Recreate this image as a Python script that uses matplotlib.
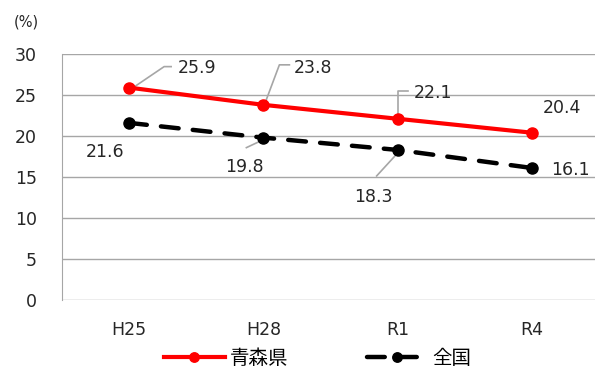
import matplotlib
matplotlib.use('Agg')
import matplotlib.pyplot as plt
import matplotlib.transforms as mtransforms

plt.rcParams['font.family'] = ['DejaVu Sans', 'Noto Sans CJK JP']

years = ['H25', 'H28', 'R1', 'R4']
aomori = [25.9, 23.8, 22.1, 20.4]
national = [21.6, 19.8, 18.3, 16.1]
series_names = ['青森県', '全国']
y_ticks = [0, 5, 10, 15, 20, 25, 30]

# label placement, pixel offsets from the point (x right, y up)
aomori_label_offsets = [(68, 20), (50, 37), (35, 26), (30, 25)]
national_label_offsets = [(-24, -29), (-19, -29), (-24, -47), (39, -2)]
# leader lines, pixel offsets from the point
aomori_leaders = [[(4, 0), (35, 21), (42, 21)],
                  [(1, 0), (16, 40), (26, 40)],
                  [(0, 0), (0, 28), (10, 28)],
                  None]
national_leaders = [None, [(0, -2), (-17, -10)], [(1, -2), (-21, -26)], None]

fig = plt.figure(figsize=(5.95, 3.71), dpi=100)
ax = fig.add_axes([62 / 595, 71 / 371, 1 - 62 / 595, 246 / 371])

x = list(range(len(years)))
ax.plot(x, aomori, color='#ff0000', linewidth=3, marker='o', markersize=8,
        label=series_names[0], zorder=4)
ax.plot(x, national, color='black', linewidth=3.2, marker='o', markersize=8,
        linestyle=(0, (4, 3.2)), dash_capstyle='round', label=series_names[1],
        zorder=4)

ax.set_xlim(-0.5, 3.47)
ax.set_ylim(0, 30)
ax.set_yticks(y_ticks)
ax.set_xticks(x)
ax.set_xticklabels(years)
ax.grid(axis='y', color='#a6a6a6', linewidth=1)
ax.set_axisbelow(True)
for side in ['top', 'right', 'bottom']:
    ax.spines[side].set_visible(False)
ax.spines['left'].set_color('#a6a6a6')
ax.tick_params(axis='both', length=0, labelsize=12.5, colors='#262626')
ax.tick_params(axis='y', pad=18)
ax.tick_params(axis='x', pad=15)

fig.text(26 / 595, 1 - 22 / 371, '(%)', ha='center', va='center',
         fontsize=10.5, color='#262626')


def add_labels(values, label_offsets, leaders):
    for i, v in enumerate(values):
        dx, dy = label_offsets[i]
        ax.annotate(f'{v}', (i, v), xytext=(dx, dy), textcoords='offset pixels',
                    ha='center', va='center', fontsize=12.5, color='#262626')
        if leaders[i] is not None:
            trans = fig.dpi_scale_trans + mtransforms.ScaledTranslation(i, v, ax.transData)
            xs = [p[0] / fig.dpi for p in leaders[i]]
            ys = [p[1] / fig.dpi for p in leaders[i]]
            ax.plot(xs, ys, transform=trans, color='#a6a6a6', linewidth=1.2,
                    zorder=3, clip_on=False)


add_labels(aomori, aomori_label_offsets, aomori_leaders)
add_labels(national, national_label_offsets, national_leaders)

fig.legend(loc='center', bbox_to_anchor=(318 / 595, 13 / 371), ncol=2,
           frameon=False, fontsize=14, handlelength=3.1, columnspacing=4.0,
           handletextpad=0.3, markerscale=0.85)

fig.savefig('out.png', dpi=100)
